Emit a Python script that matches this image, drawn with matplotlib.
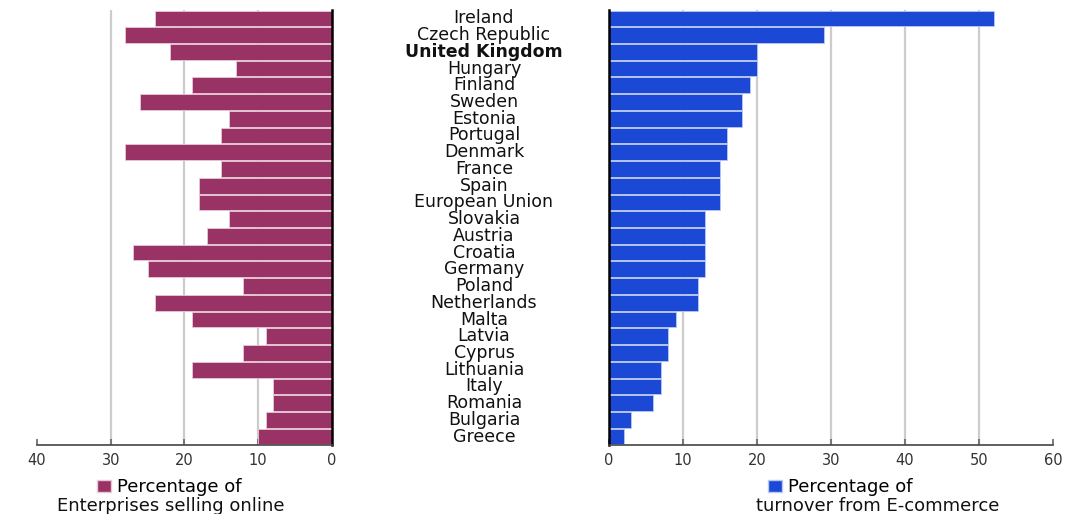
import matplotlib.pyplot as plt
from matplotlib.patches import Patch

countries = ["Ireland", "Czech Republic", "United Kingdom", "Hungary", "Finland",
             "Sweden", "Estonia", "Portugal", "Denmark", "France", "Spain",
             "European Union", "Slovakia", "Austria", "Croatia", "Germany",
             "Poland", "Netherlands", "Malta", "Latvia", "Cyprus", "Lithuania",
             "Italy", "Romania", "Bulgaria", "Greece"]
selling_online = [24, 28, 22, 13, 19, 26, 14, 15, 28, 15, 18, 18, 14, 17,
                  27, 25, 12, 24, 19, 9, 12, 19, 8, 8, 9, 10]
ecommerce_turnover = [52, 29, 20, 20, 19, 18, 18, 16, 16, 15, 15, 15, 13, 13,
                      13, 13, 12, 12, 9, 8, 8, 7, 7, 6, 3, 2]
left_ticks = [0, 10, 20, 30, 40]
right_ticks = [0, 10, 20, 30, 40, 50, 60]

purple = "#993366"
blue = "#1c48d6"
W, H = 1070, 514

fig = plt.figure(figsize=(W / 100, H / 100), dpi=100)
ax1 = fig.add_axes([37 / W, (H - 445) / H, 295 / W, 435 / H])
ax2 = fig.add_axes([609 / W, (H - 445) / H, 444 / W, 435 / H])

ypos = list(range(len(countries)))

ax1.barh(ypos, selling_online, height=0.94, color=purple, edgecolor="#e8c8d6",
         linewidth=0.6, zorder=2)
ax2.barh(ypos, ecommerce_turnover, height=0.94, color=blue, edgecolor="#b8c8f4",
         linewidth=0.6, zorder=2)

ax1.set_xlim(40, 0)
ax2.set_xlim(0, 60)
ax1.set_xticks(left_ticks)
ax2.set_xticks(right_ticks)

# light vertical guides at the inner ticks only
for ax, ticks in ((ax1, left_ticks), (ax2, right_ticks)):
    for t in ticks[1:-1]:
        ax.axvline(t, color="#cccccc", linewidth=1.6, zorder=0)

for ax in (ax1, ax2):
    ax.set_ylim(len(countries) - 0.5, -0.5)
    ax.set_yticks([])
    ax.spines["top"].set_visible(False)
    ax.spines["bottom"].set_color("#444444")
    ax.spines["bottom"].set_linewidth(1.2)
    ax.tick_params(axis="x", direction="in", length=4, width=1.2, color="#666666",
                   labelsize=10.5, labelcolor="#333333", pad=6)

ax1.spines["left"].set_visible(False)
ax1.spines["right"].set_color("black")
ax1.spines["right"].set_linewidth(1.8)
ax2.spines["right"].set_visible(False)
ax2.spines["left"].set_color("black")
ax2.spines["left"].set_linewidth(1.8)

# country names sit in the gap between the two panels
for i, name in enumerate(countries):
    ax1.annotate(name, xy=(0, i), xytext=(152, 0), textcoords="offset pixels",
                 ha="center", va="center", fontsize=12.5, color="#111111",
                 fontweight="bold" if name == "United Kingdom" else "normal")

ax1.legend(handles=[Patch(facecolor=purple, edgecolor="#e8c8d6")],
           labels=["Percentage of"], loc="center", bbox_to_anchor=(0.447, -0.097),
           frameon=False, fontsize=13, handlelength=0.8, handleheight=0.7,
           handletextpad=0.3, borderaxespad=0, borderpad=0)
ax1.text(0.454, -0.14, "Enterprises selling online", transform=ax1.transAxes,
         ha="center", va="center", fontsize=13, color="#111111")

ax2.legend(handles=[Patch(facecolor=blue, edgecolor="#b8c8f4")],
           labels=["Percentage of"], loc="center", bbox_to_anchor=(0.52, -0.097),
           frameon=False, fontsize=13, handlelength=0.8, handleheight=0.7,
           handletextpad=0.3, borderaxespad=0, borderpad=0)
ax2.text(0.606, -0.14, "turnover from E-commerce", transform=ax2.transAxes,
         ha="center", va="center", fontsize=13, color="#111111")

fig.savefig("out.png", dpi=100)
